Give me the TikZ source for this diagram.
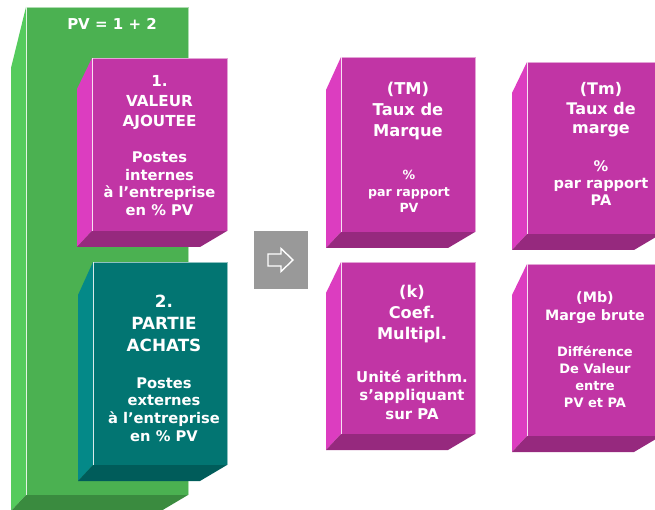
\documentclass[tikz,border=0pt]{standalone}
\usepackage{fontspec}
\setmainfont{DejaVu Sans}
\definecolor{greenFront}{HTML}{4BB151}
\definecolor{greenSide}{HTML}{55CB5D}
\definecolor{greenBottom}{HTML}{3A8B3F}
\definecolor{pinkFront}{HTML}{C135A5}
\definecolor{pinkSide}{HTML}{DC3DC0}
\definecolor{pinkBottom}{HTML}{96297E}
\definecolor{tealFront}{HTML}{027572}
\definecolor{tealSide}{HTML}{048988}
\definecolor{tealBottom}{HTML}{005C5A}
\definecolor{arrowGray}{HTML}{999999}
% 3D block: colour prefix, front face x1 y1 x2 y2, drop of the side top.
\newcommand{\drawBlock}[6]{%
  \fill[#1Side] (#2,#3) -- (#2-15,#3+#6) -- (#2-15,#5+16) -- (#2,#5) -- cycle;
  \fill[#1Bottom] (#2,#5) -- (#4,#5) -- (#4-27,#5+16) -- (#2-15,#5+16) -- cycle;
  \fill[#1Front] (#2,#3) rectangle (#4,#5);
  \draw[#1Front!45!white, line width=0.8pt] (#2,#5) -- (#2,#3) -- (#4,#3) -- (#4,#5);
  \draw[white!85!#1Front, line width=0.9pt] (#2,#5) -- (#2,#3);
}
% Lines of text: name, x, first baseline, line step, font size, lines.
\newcommand{\blockLines}[6]{%
  \foreach \lbl [count=\i] in {#6}{%
    \node[blockText, font=\fontsize{#5}{#5}\selectfont\bfseries]
      (#1-\i) at (#2,{#3+(\i-1)*#4}) {\lbl};
  }%
}

\begin{document}
\begin{tikzpicture}[x=1pt,y=-1pt,%
  blockText/.style={text=white, inner sep=0pt, anchor=base},%
  arrowStyle/.style={draw=white, fill=arrowGray, line width=1.4pt}%
]
\useasboundingbox (0,0) rectangle (655,510);
%
% Selling price and its two parts.
\drawBlock{green}{26}{7}{188}{495}{61}
\drawBlock{pink}{92}{58}{227}{231}{31}
\drawBlock{teal}{93}{262}{227}{465}{33}
%
% The four ratios.
\drawBlock{pink}{341}{57}{475}{232}{33}
\drawBlock{pink}{527}{62}{661}{234}{31}
\drawBlock{pink}{341}{262}{475}{434}{31}
\drawBlock{pink}{527}{264}{661}{436}{31}
%
% Arrow between the two groups.
\node[fill=arrowGray, minimum width=54pt, minimum height=58pt, inner sep=0pt]
  (nextBox) at (281,260) {};
\draw[arrowStyle, shift={(nextBox.center)}] (-13,-6) -- (0,-6) -- (0,-11.5)
  -- (12,0) -- (0,11.5) -- (0,6) -- (-13,6) -- cycle;
%
% Texts.
\blockLines{pv}{112}{30}{0}{15}{PV = 1 + 2}
\blockLines{vaTitle}{159.5}{87}{20}{15.2}{1.,VALEUR,AJOUTEE}
\blockLines{vaText}{159.5}{163}{17.4}{14.7}{Postes,internes,à l’entreprise,en \% PV}
\blockLines{paTitle}{164}{307}{22}{16.8}{2.,PARTIE,ACHATS}
\blockLines{paText}{164}{388}{17.7}{14.7}{Postes,externes,à l’entreprise,en \% PV}
\blockLines{tmTitle}{408}{95}{21}{16.3}{(TM),Taux de,Marque}
\blockLines{tmText}{409}{180}{16.5}{12.6}{\%,par rapport,PV}
\blockLines{tauxTitle}{601}{95}{19.5}{16}{(Tm),Taux de,marge}
\blockLines{tauxText}{601}{172}{17}{14.6}{\%,par rapport,PA}
\blockLines{kTitle}{412}{298}{20.5}{16.2}{(k),Coef.,Multipl.}
\blockLines{kText}{412}{382}{18.5}{14.9}{Unité arithm.,s’appliquant,sur PA}
\blockLines{mbTitle}{595}{302}{18}{14.3}{(Mb),Marge brute}
\blockLines{mbText}{595}{356}{17}{13}{Différence,De Valeur,entre,PV et PA}
\end{tikzpicture}
\end{document}
